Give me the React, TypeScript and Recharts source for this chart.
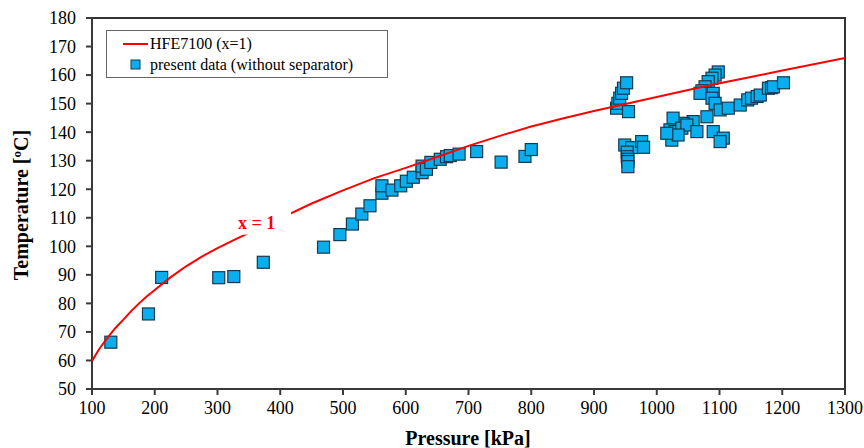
import React from "react";
import {
  ScatterChart,
  Scatter,
  XAxis,
  YAxis,
  ReferenceArea,
  ReferenceDot,
  Legend,
} from "recharts";

const pressureTicks = [100, 200, 300, 400, 500, 600, 700, 800, 900, 1000, 1100, 1200, 1300];
const temperatureTicks = [50, 60, 70, 80, 90, 100, 110, 120, 130, 140, 150, 160, 170, 180];

// HFE7100 saturation line (x=1)
const curvePressure = [100, 112, 125, 137, 150, 162, 175, 187, 200, 225, 250, 275, 300, 325, 350, 375, 400, 450, 500, 550, 600, 650, 700, 750, 800, 850, 900, 950, 1000, 1050, 1100, 1150, 1200, 1250, 1300];
const curveTemperature = [59.8, 64.2, 68.0, 71.3, 74.3, 77.2, 80.0, 82.4, 84.7, 89.1, 93.0, 96.4, 99.4, 102.1, 104.7, 107.3, 109.8, 115.0, 119.6, 123.9, 127.5, 131.3, 135.2, 138.7, 142.0, 144.8, 147.4, 149.9, 152.3, 154.8, 157.1, 159.3, 161.6, 163.8, 166.0];

// present data (without separator)
const dataPressure = [
  130, 190, 211, 302, 326, 373, 469, 495, 515, 530, 543, 562, 562, 578, 592, 601, 612, 626, 626, 633,
  640, 655, 665, 671, 685, 713, 752, 790, 800,
  936, 938, 941, 944, 947, 952, 955, 949, 960, 976, 979, 953, 953, 954, 954, 954,
  1098, 1093, 1088, 1082, 1077, 1072, 1069, 1090, 1088, 1093, 1101, 1114, 1133, 1145, 1151, 1160, 1165,
  1178, 1183, 1186, 1202, 1080, 1058, 1042, 1026, 1021, 1029, 1040, 1048, 1064, 1090, 1106, 1101, 1024,
  1034, 1016,
];
const dataTemperature = [
  66.4, 76.3, 89.1, 89.0, 89.4, 94.4, 99.7, 104.1, 107.8, 111.3, 114.2, 118.6, 121.2, 119.7, 121.2, 122.8, 124.2, 125.8, 128.1, 127.0,
  129.4, 130.5, 131.4, 131.8, 132.3, 133.2, 129.5, 131.5, 133.9,
  148.4, 150.1, 151.9, 153.6, 155.4, 157.3, 147.2, 135.5, 134.6, 136.7, 134.7, 133.0, 131.4, 130.5, 129.7, 127.9,
  161.1, 160.0, 158.9, 157.7, 155.9, 154.5, 153.6, 153.6, 151.9, 150.1, 147.8, 148.4, 149.5, 151.3, 151.9, 152.5, 153.0,
  155.4, 155.6, 155.9, 157.3, 145.4, 143.7, 143.1, 144.9, 140.8, 140.2, 141.4, 142.5, 140.2, 140.2, 137.9, 136.7, 137.2,
  139.0, 139.6,
];

const curve = curvePressure.map((p, i) => ({ p, t: curveTemperature[i] }));
const points = dataPressure.map((p, i) => ({ p, t: dataTemperature[i] }));

const serif = "'Liberation Serif', 'Times New Roman', serif";

const Square = (props: any) => {
  const { cx, cy } = props;
  if (cx == null || cy == null) return <g />;
  return (
    <rect x={cx - 6} y={cy - 6} width={12} height={12} fill="#0aaeee" stroke="#17394e" strokeWidth={1.2} />
  );
};

const NoDot = () => <g />;

const CurveLabel = (props: any) => {
  const { cx, cy } = props;
  return (
    <g>
      <rect x={cx - 22} y={cy - 16} width={56} height={28} fill="#fff" />
      <text x={cx - 19} y={cy + 6} fill="#ff0000" fontFamily={serif} fontWeight="bold" fontSize={18}>
        x = 1
      </text>
    </g>
  );
};

const LegendBox = () => (
  <div
    style={{
      boxSizing: "border-box",
      width: 282,
      height: 48,
      border: "1px solid #666",
      background: "#fff",
      fontFamily: serif,
      fontSize: 16,
      color: "#000",
      padding: "2px 0 0 16px",
      lineHeight: "21px",
    }}
  >
    <div style={{ display: "flex", alignItems: "center" }}>
      <svg width={26} height={10}>
        <line x1={0} y1={5} x2={25} y2={5} stroke="#ff0000" strokeWidth={2} />
      </svg>
      <span style={{ marginLeft: 1 }}>HFE7100 (x=1)</span>
    </div>
    <div style={{ display: "flex", alignItems: "center" }}>
      <svg width={26} height={12}>
        <rect x={8} y={1} width={9} height={9} fill="#0aaeee" stroke="#17394e" strokeWidth={1} />
      </svg>
      <span style={{ marginLeft: 1 }}>present data (without separator)</span>
    </div>
  </div>
);

export default function App() {
  return (
    <div style={{ position: "absolute", left: 0, top: 0, background: "#fff" }}>
      <ScatterChart width={864} height={448} margin={{ top: 18, right: 19, left: 0, bottom: 0 }}>
        <XAxis
          type="number"
          dataKey="p"
          domain={[100, 1300]}
          ticks={pressureTicks}
          allowDataOverflow
          height={59}
          tickSize={6}
          tickMargin={6}
          stroke="#3a3a3a"
          strokeWidth={2}
          tick={{ fontFamily: serif, fontSize: 18, fill: "#000" }}
          label={{
            content: () => (
              <text x={468} y={445} textAnchor="middle" fontFamily={serif} fontWeight="bold" fontSize={20} fill="#000">
                Pressure [kPa]
              </text>
            ),
          }}
        />
        <YAxis
          type="number"
          dataKey="t"
          domain={[50, 180]}
          ticks={temperatureTicks}
          allowDataOverflow
          width={92}
          tickSize={6}
          tickMargin={10}
          stroke="#3a3a3a"
          strokeWidth={2}
          tick={{ fontFamily: serif, fontSize: 18, fill: "#000" }}
          label={{
            content: () => (
              <text
                x={28}
                y={205}
                transform="rotate(-90 28 205)"
                textAnchor="middle"
                fontFamily={serif}
                fontWeight="bold"
                fontSize={20}
                fill="#000"
              >
                Temperature  [ºC]
              </text>
            ),
          }}
        />
        <ReferenceArea x1={100} x2={1300} y1={50} y2={180} fill="none" stroke="#333" strokeWidth={2} />
        <Scatter name="present data (without separator)" data={points} shape={Square} isAnimationActive={false} />
        <Scatter
          name="HFE7100 (x=1)"
          data={curve}
          shape={NoDot}
          line={{ stroke: "#ff0000", strokeWidth: 2 }}
          lineType="joint"
          isAnimationActive={false}
        />
        <ReferenceDot x={363} y={108.3} r={0} shape={CurveLabel} />
        <Legend
          layout="horizontal"
          verticalAlign="middle"
          align="center"
          wrapperStyle={{ position: "absolute", left: 106, top: 30, width: 282, height: 48 }}
          content={LegendBox}
        />
      </ScatterChart>
    </div>
  );
}
